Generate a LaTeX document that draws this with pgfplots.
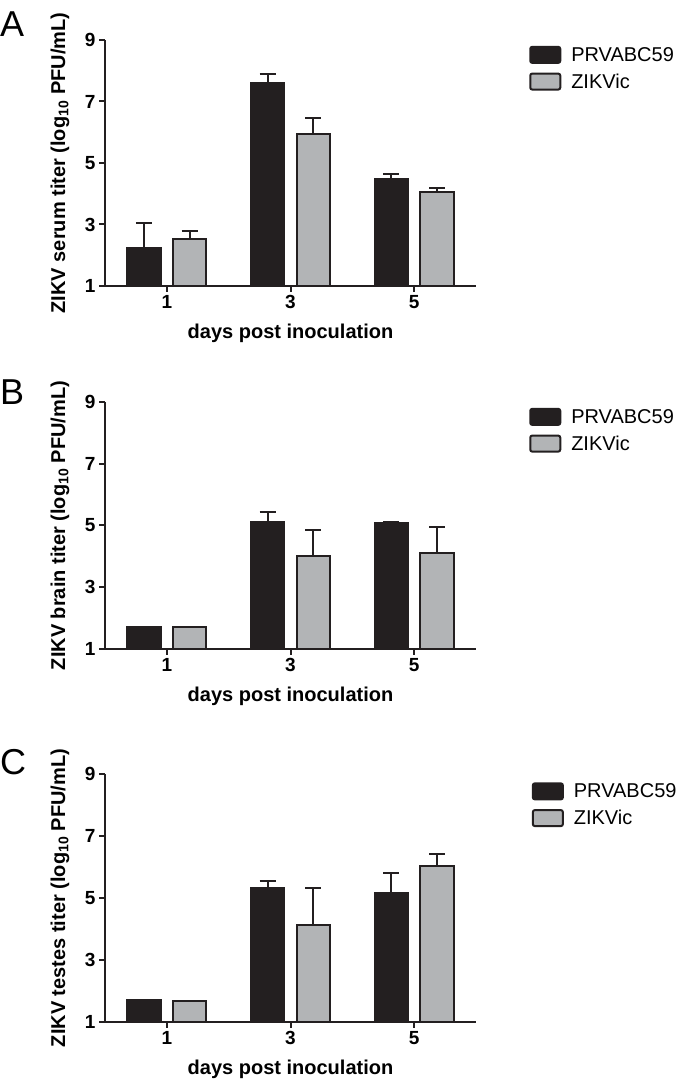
\documentclass[border=0pt]{standalone}
\usepackage{fontspec}
\setmainfont{Liberation Sans}
\usepackage{pgfplots}
\pgfplotsset{compat=1.18}
\definecolor{barblack}{HTML}{231F20}
\definecolor{bargrey}{HTML}{B2B4B6}
\pgfplotsset{
  panel/.style={
    scale only axis, width=371pt,
    xmin=0, xmax=6, ymin=1, ymax=9,
    axis lines*=left,
    axis line style={line width=2pt, barblack},
    xtick={1,3,5}, ytick={1,3,5,7,9},
    tick align=outside, major tick length=6pt,
    tick style={line width=2pt, barblack},
    /pgf/number format/assume math mode=true,
    tick label style={font=\fontsize{19}{22}\selectfont\bfseries},
    xlabel={days post inoculation},
    every axis x label/.style={at={(axis description cs:0.5,-0.191)}, anchor=center, font=\fontsize{20}{24}\selectfont\bfseries},
    every axis y label/.style={at={(axis description cs:-0.121,0.5)}, rotate=90, anchor=center, font=\fontsize{20}{24}\selectfont\bfseries},
    ybar, bar width=0.54,
    error bars/y dir=plus, error bars/y explicit,
    error bars/error bar style={line width=2pt, barblack},
    error bars/error mark options={rotate=90, line width=2pt, barblack, mark size=8pt},
    legend cell align=left,
    legend style={draw=none, fill=none, inner sep=0pt, at={(1.143,0.98)}, anchor=north west,
      font=\fontsize{20}{24}\selectfont, row sep=7pt,
      /tikz/every odd column/.append style={column sep=8pt}},
    legend image code/.code={\draw[##1, ybar=0pt, line width=2pt, rounded corners=2pt] (0pt,-8pt) rectangle (30pt,8pt);},
  },
  blk/.style={fill=barblack, draw=barblack, line width=2pt, bar shift=-0.37},
  gry/.style={fill=bargrey, draw=barblack, line width=2pt, bar shift=0.37},
}
\begin{document}
\begin{tikzpicture}
\useasboundingbox (0pt,0pt) rectangle (680pt,1083pt);
% Panel A
\begin{axis}[panel, at={(105pt,797pt)}, anchor=south west, height=246pt,
  ylabel={ZIKV serum titer (log\textsubscript{10} PFU/mL)}]
\addplot[blk] coordinates {(1,2.22) +- (0,0.83) (3,7.61) +- (0,0.27) (5,4.47) +- (0,0.17)};
\addplot[gry] coordinates {(1,2.53) +- (0,0.26) (3,5.93) +- (0,0.54) (5,4.06) +- (0,0.12)};
\legend{PRVABC59, ZIKVic}
\end{axis}
% Panel B
\begin{axis}[panel, at={(105pt,434pt)}, anchor=south west, height=247pt,
  ylabel={ZIKV brain titer (log\textsubscript{10} PFU/mL)}]
\addplot[blk] coordinates {(1,1.71) +- (0,0) (3,5.12) +- (0,0.31) (5,5.08) +- (0,0.04)};
\addplot[gry] coordinates {(1,1.70) +- (0,0) (3,4.01) +- (0,0.83) (5,4.10) +- (0,0.85)};
\legend{PRVABC59, ZIKVic}
\end{axis}
% Panel C
\begin{axis}[panel, at={(105pt,61pt)}, anchor=south west, height=248pt,
  ylabel={ZIKV testes titer (log\textsubscript{10} PFU/mL)},
  legend style={at={(1.15,0.97)}}]
\addplot[blk] coordinates {(1,1.72) +- (0,0) (3,5.33) +- (0,0.21) (5,5.15) +- (0,0.67)};
\addplot[gry] coordinates {(1,1.69) +- (0,0) (3,4.13) +- (0,1.20) (5,6.04) +- (0,0.37)};
\legend{PRVABC59, ZIKVic}
\end{axis}
\node[anchor=base west, inner sep=0pt, font=\fontsize{36}{36}\selectfont] at (0pt,1046pt) {A};
\node[anchor=base west, inner sep=0pt, font=\fontsize{36}{36}\selectfont] at (0pt,678pt) {B};
\node[anchor=base west, inner sep=0pt, font=\fontsize{36}{36}\selectfont] at (0pt,308pt) {C};
\end{tikzpicture}
\end{document}
